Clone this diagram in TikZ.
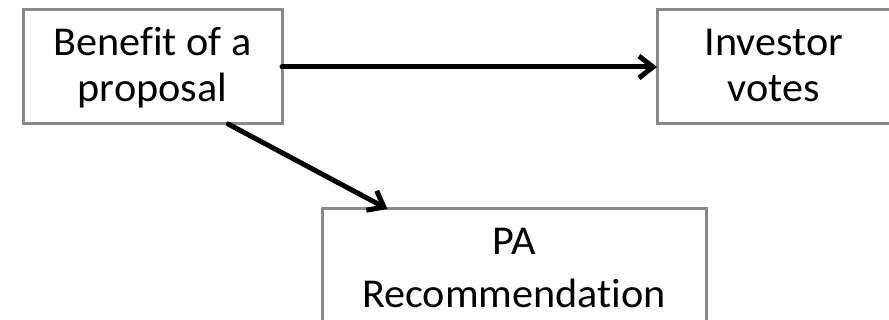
\documentclass[tikz,border=0pt]{standalone}
\usepackage{fontspec}
\setmainfont{Carlito}[Ligatures={NoCommon}, FakeStretch=1.03]
\usetikzlibrary{arrows.meta}
\definecolor{boxgray}{RGB}{137,137,137}
\newcommand{\topstrut}[1]{\rule{0pt}{#1}}
\newcommand{\botstrut}[1]{\rule[-#1]{0pt}{#1}}
\tikzset{
  box/.style={draw=boxgray, line width=3pt, fill=white, inner sep=0pt, outer sep=0pt,
    align=center, font=\fontsize{41}{46}\selectfont},
  conn/.style={line width=5pt, -{Straight Barb[length=14pt,width=22pt,line width=5pt]}, line cap=round}
}
\begin{document}
\begin{tikzpicture}[x=1pt,y=-1pt]
\clip (0,0) rectangle (889,320);
\useasboundingbox (0,0) rectangle (889,320);
\node[box, minimum width=259pt, minimum height=114pt] (ben) at (152.5,67)
  {\topstrut{33pt}Benefit of a\\proposal\botstrut{10pt}};
\node[box, minimum width=234pt, minimum height=114pt] (inv) at (774,67)
  {\topstrut{33pt}Investor\\votes\botstrut{10pt}};
\node[box, minimum width=384pt, minimum height=118pt, font=\fontsize{41}{53}\selectfont] (pa) at (514,268)
  {\topstrut{27pt}PA\\Recommendation};
\draw[conn] (ben.east) -- (inv.west);
\draw[conn] (ben.-37.4) -- (pa.155.8);
\end{tikzpicture}
\end{document}
